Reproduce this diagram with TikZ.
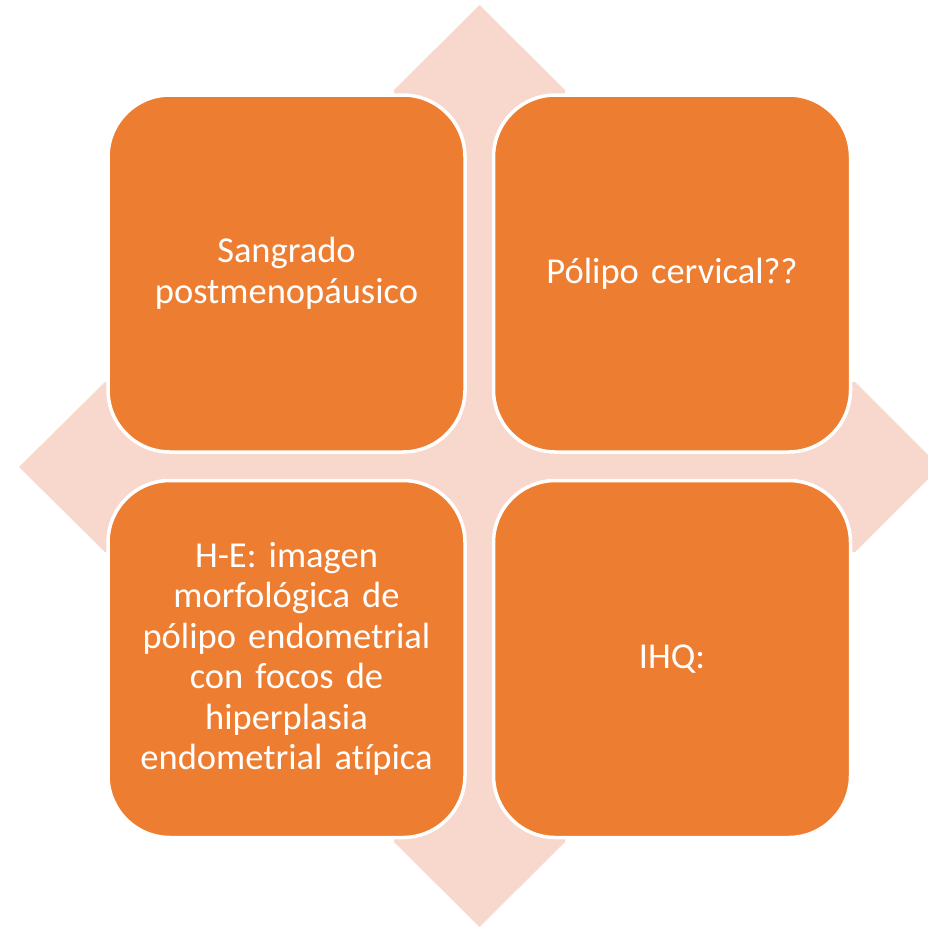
\documentclass[tikz,border=0pt]{standalone}
\usepackage{fontspec}
\setmainfont[Ligatures={NoCommon}]{Carlito}
\definecolor{boxorange}{HTML}{ED7D31}
\definecolor{arrowpink}{HTML}{F8D7CC}
\begin{document}
\begin{tikzpicture}[x=1pt,y=-1pt,
  quad/.style={rounded corners=62pt, fill=boxorange, draw=white, line width=3.5pt,
    minimum width=357pt, minimum height=357pt, inner sep=0pt,
    text width=340pt, align=center, text=white,
    font=\fontsize{36.5}{40.5}\selectfont}]
\useasboundingbox (0,0) rectangle (928,927);
\clip (0,0) rectangle (928,927);
\fill[arrowpink] (479.5,5) -- (565,90) -- (565,382) -- (855,382) -- (940,467)
  -- (855,552) -- (565,552) -- (565,842) -- (479.5,927) -- (394,842)
  -- (394,552) -- (105,552) -- (19,467) -- (105,382) -- (394,382)
  -- (394,90) -- cycle;
\node[quad] (tl) at (286.5,273.5) {Sangrado\\postmenopáusico};
\node[quad] (tr) at (672,273.5) {Pólipo cervical??};
\node[quad] (bl) at (286.5,659) {H-E: imagen\\morfológica de\\pólipo endometrial\\con focos de\\hiperplasia\\endometrial atípica};
\node[quad] (br) at (672,659) {IHQ:};
\end{tikzpicture}
\end{document}
